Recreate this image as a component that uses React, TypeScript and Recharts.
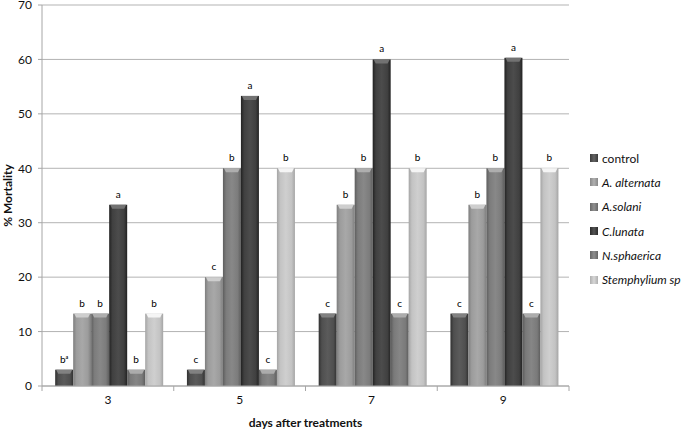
import { BarChart, Bar, XAxis, YAxis, CartesianGrid, Legend, LabelList } from "recharts";

const DAYS = ["3", "5", "7", "9"];
const Y_TICKS = [0, 10, 20, 30, 40, 50, 60, 70];

const CONTROL = [3, 3, 13.3, 13.3];
const A_ALTERNATA = [13.3, 20, 33.3, 33.3];
const A_SOLANI = [13.3, 40, 40, 40];
const C_LUNATA = [33.3, 53.3, 60, 60.3];
const N_SPHAERICA = [3, 3, 13.3, 13.3];
const STEMPHYLIUM = [13.3, 40, 40, 40];

const LET_CONTROL = ["bᵃ", "c", "c", "c"];
const LET_A_ALTERNATA = ["b", "c", "b", "b"];
const LET_A_SOLANI = ["b", "b", "b", "b"];
const LET_C_LUNATA = ["a", "a", "a", "a"];
const LET_N_SPHAERICA = ["b", "c", "c", "c"];
const LET_STEMPHYLIUM = ["b", "b", "b", "b"];

const SERIES = [
  { key: "control", name: "control", italic: false, values: CONTROL, letters: LET_CONTROL, color: "#4f4f4f" },
  { key: "aalt", name: "A. alternata", italic: true, values: A_ALTERNATA, letters: LET_A_ALTERNATA, color: "#9c9c9c" },
  { key: "asol", name: "A.solani", italic: true, values: A_SOLANI, letters: LET_A_SOLANI, color: "#7c7c7c" },
  { key: "clun", name: "C.lunata", italic: true, values: C_LUNATA, letters: LET_C_LUNATA, color: "#404040" },
  { key: "nsph", name: "N.sphaerica", italic: true, values: N_SPHAERICA, letters: LET_N_SPHAERICA, color: "#7a7a7a" },
  { key: "stem", name: "Stemphylium sp", italic: true, values: STEMPHYLIUM, letters: LET_STEMPHYLIUM, color: "#c3c3c3" },
];

const data = DAYS.map((day, i) => {
  const row: any = { day };
  SERIES.forEach((s) => {
    row[s.key] = s.values[i];
  });
  return row;
});

const FONT = "Lato, 'Open Sans', sans-serif";

function shade(hex: string, amt: number) {
  const n = parseInt(hex.slice(1), 16);
  const f = (c: number) => Math.max(0, Math.min(255, Math.round(c + amt)));
  const r = f((n >> 16) & 255), g = f((n >> 8) & 255), b = f(n & 255);
  return `rgb(${r},${g},${b})`;
}

const BevelBar = (props: any) => {
  const { x, y, width, height, gid, fill } = props;
  if (!height || height <= 0) return null;
  const cap = Math.min(4, height);
  return (
    <g>
      <rect x={x} y={y} width={width} height={height} fill={`url(#${gid})`} />
      <path
        d={`M${x + 1},${y} L${x + width - 1},${y} L${x + width - 3},${y + cap} L${x + 3},${y + cap} Z`}
        fill={shade(fill, 50)}
      />
    </g>
  );
};

const XTick = (props: any) => {
  const { x, y, payload, index, visibleTicksCount } = props;
  const half = payload.offset || 0;
  const left = payload.coordinate - half;
  const right = payload.coordinate + half;
  return (
    <g>
      <line x1={left} y1={y - 8} x2={left} y2={y - 3} stroke="#a6a6a6" />
      {index === visibleTicksCount - 1 && (
        <line x1={right} y1={y - 8} x2={right} y2={y - 3} stroke="#a6a6a6" />
      )}
      <text x={x} y={y + 10} textAnchor="middle" fontSize={12} fontFamily={FONT} fill="#111">
        {payload.value}
      </text>
    </g>
  );
};

const makeLabel = (letters: string[]) => (props: any) => {
  const { x, y, width, index } = props;
  return (
    <text x={x + width / 2} y={y - 7} textAnchor="middle" fontSize={10} fontFamily={FONT} fill="#000">
      {letters[index]}
    </text>
  );
};

const LegendBox = () => (
  <div style={{ fontFamily: FONT, fontSize: 12, color: "#111" }}>
    {SERIES.map((s) => (
      <div key={s.key} style={{ height: 24.3, display: "flex", alignItems: "center" }}>
        <span
          style={{
            width: 8,
            height: 8,
            marginRight: 4,
            background: `linear-gradient(90deg, ${shade(s.color, -20)}, ${shade(s.color, 20)}, ${shade(s.color, -20)})`,
            display: "inline-block",
          }}
        />
        <span style={{ fontStyle: s.italic ? "italic" : "normal" }}>{s.name}</span>
      </div>
    ))}
  </div>
);

export default function App() {
  return (
    <div style={{ position: "absolute", left: 0, top: 0, background: "#fff" }}>
      <BarChart
        width={685}
        height={430}
        data={data}
        margin={{ top: 5, right: 116, left: 0, bottom: 0 }}
        barCategoryGap="10%"
        barGap={0}
      >
        <defs>
          {SERIES.map((s) => (
            <linearGradient key={s.key} id={`g-${s.key}`} x1="0" y1="0" x2="1" y2="0">
              <stop offset="0%" stopColor={shade(s.color, -30)} />
              <stop offset="18%" stopColor={s.color} />
              <stop offset="50%" stopColor={shade(s.color, 12)} />
              <stop offset="82%" stopColor={s.color} />
              <stop offset="100%" stopColor={shade(s.color, -30)} />
            </linearGradient>
          ))}
        </defs>
        <CartesianGrid vertical={false} stroke="#b3b3b3" />
        <XAxis
          dataKey="day"
          height={44}
          stroke="#a6a6a6"
          tickLine={false}
          tick={<XTick />}
          label={{
            value: "days after treatments",
            position: "insideBottom",
            offset: 3,
            style: { fontFamily: FONT, fontSize: 12, fontWeight: "bold", fill: "#111" },
          }}
        />
        <YAxis
          width={42}
          domain={[0, 70]}
          ticks={Y_TICKS}
          interval={0}
          stroke="#a6a6a6"
          tickSize={4}
          tickMargin={6}
          tick={{ fontFamily: FONT, fontSize: 12, fill: "#111" }}
          label={{
            value: "% Mortality",
            angle: -90,
            position: "insideLeft",
            offset: 8,
            style: { textAnchor: "middle", fontFamily: FONT, fontSize: 12, fontWeight: "bold", fill: "#111" },
          }}
        />
        <Legend
          layout="vertical"
          align="center"
          verticalAlign="middle"
          width={100}
          wrapperStyle={{ left: 590, top: 146 }}
          content={() => <LegendBox />}
        />
        {SERIES.map((s) => (
          <Bar
            key={s.key}
            dataKey={s.key}
            name={s.name}
            fill={s.color}
            isAnimationActive={false}
            shape={(p: any) => <BevelBar {...p} gid={`g-${s.key}`} fill={s.color} />}
          >
            <LabelList dataKey={s.key} content={makeLabel(s.letters)} />
          </Bar>
        ))}
      </BarChart>
    </div>
  );
}
